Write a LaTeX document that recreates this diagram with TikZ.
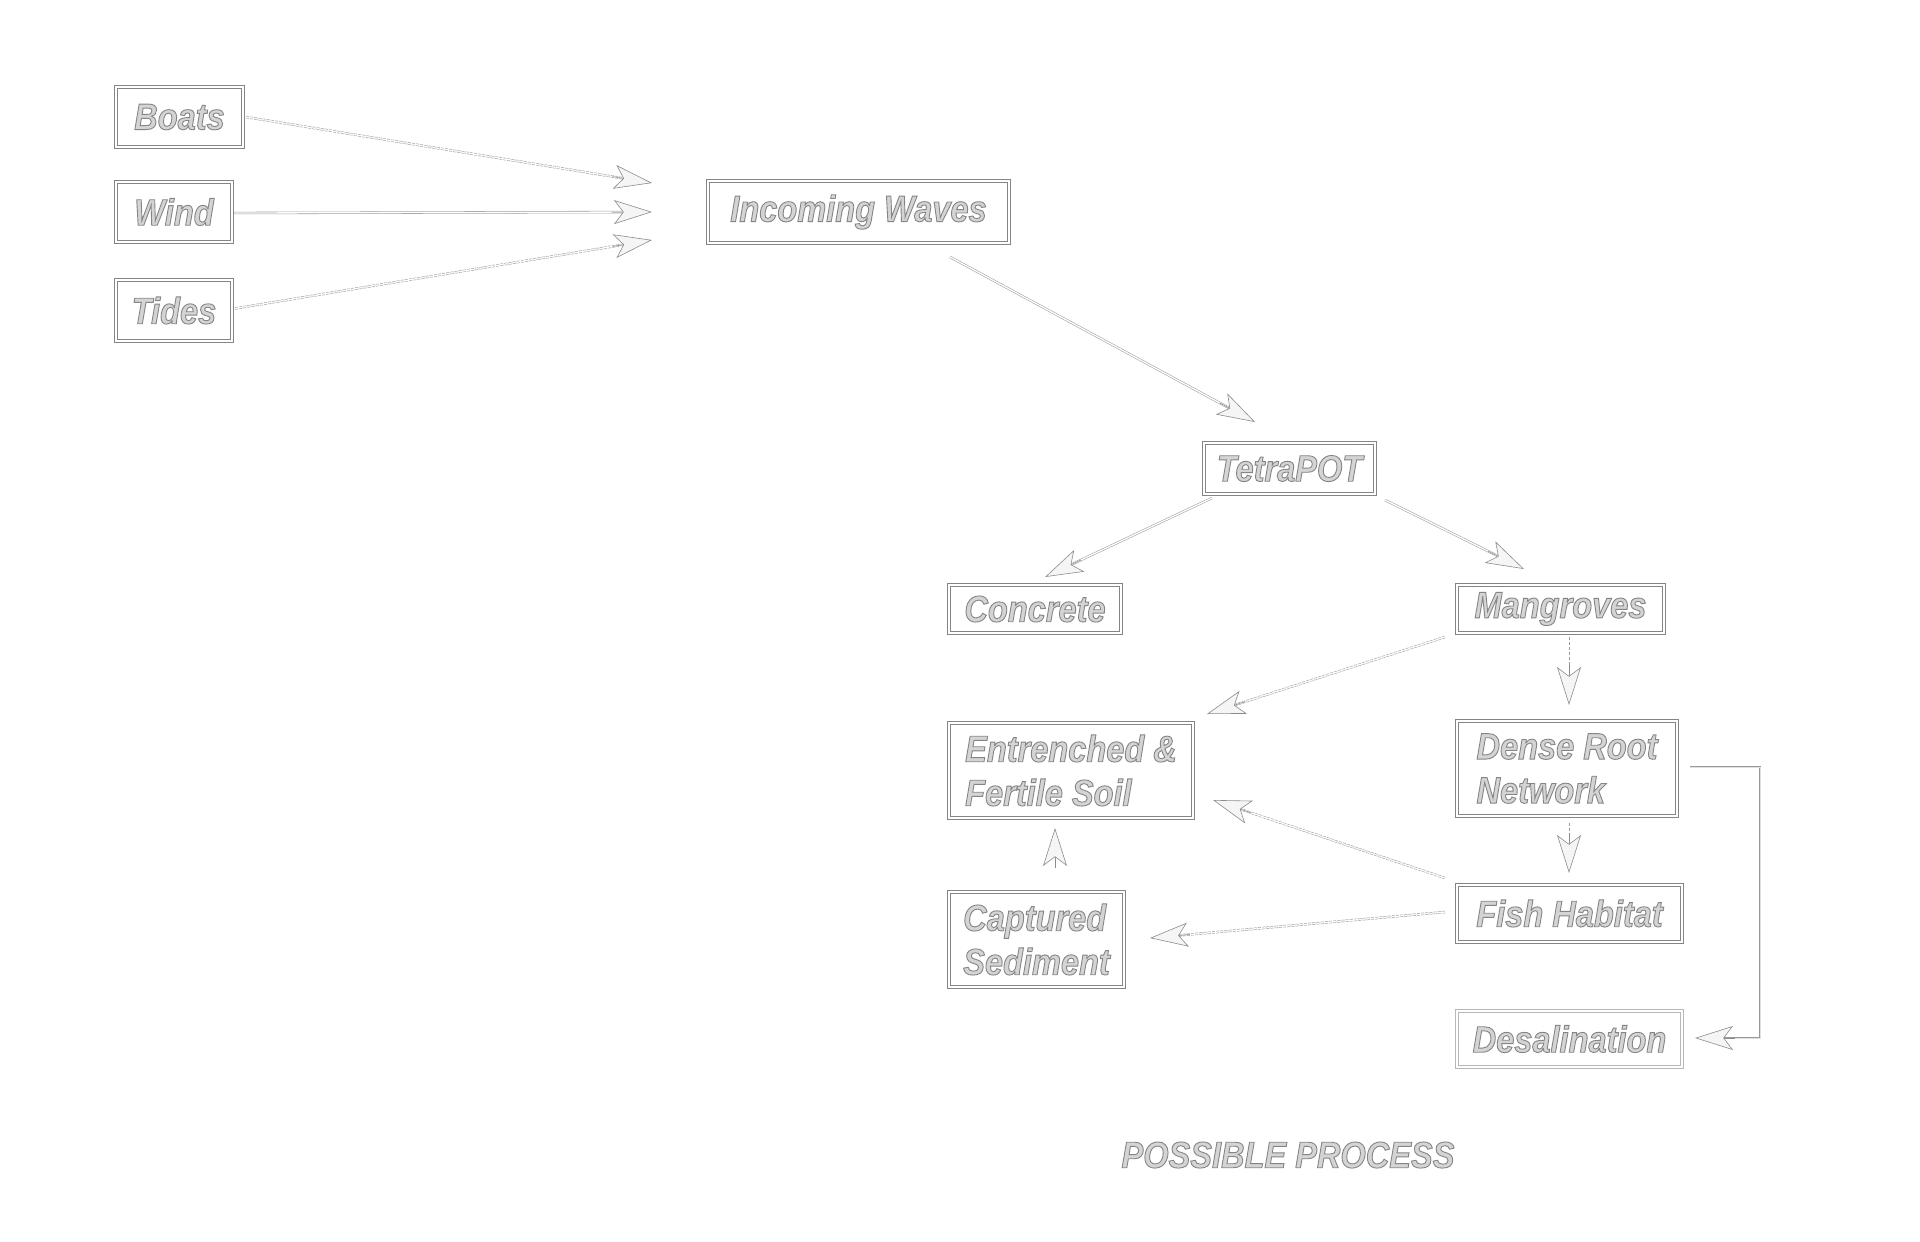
\documentclass[tikz,border=0pt]{standalone}
\usepackage{fontspec}
\newfontfamily\lab[FakeStretch=0.88]{Liberation Sans}
\usetikzlibrary{arrows.meta,calc}
\newcommand\emb[1]{\special{pdf:literal 2 Tr 0.52 G 0.9 w}#1\special{pdf:literal 0 Tr}}
\tikzset{
  box/.style={draw=black!48, line width=0.7pt, double=white, double distance=2.2pt,
    fill=white, text=black!17, align=left, inner sep=0pt, outer sep=0pt, anchor=north west,
    font={\lab\bfseries\itshape\fontsize{37}{44}\selectfont}},
  dl/.style={draw=black!38, line width=0.55pt, double=white, double distance=1.3pt, shorten >=29pt},
  dsh/.style={dash pattern=on 3pt off 1.2pt},
  thinline/.style={draw=black!40, line width=0.6pt, dash pattern=on 3pt off 2pt, shorten >=29pt},
  elbow/.style={draw=black!40, line width=0.7pt, double=black!12, double distance=1pt, shorten >=29pt},
  tipst/.style={draw=black!45, line width=0.6pt, -{Stealth[length=38pt,width=24pt,inset=9pt,fill=black!4]}}
}
\begin{document}
\begin{tikzpicture}[x=1pt,y=-1pt]
\useasboundingbox (0,0) rectangle (1920,1242);
\fill[white] (0,0) rectangle (1920,1242);
% nodes
\node[box, minimum width=127pt, minimum height=60pt] (boats) at (116,87) {\emb{Boats}};
\node[box, minimum width=116pt, minimum height=60pt] (wind) at (116,182) {\emb{Wind}};
\node[box, minimum width=116pt, minimum height=61pt] (tides) at (116,280) {\emb{Tides}};
\node[box, minimum width=301pt, minimum height=62pt] (iw) at (708,181) {\emb{Incoming Waves}};
\node[box, minimum width=171pt, minimum height=51pt] (tetra) at (1204,443) {\emb{TetraPOT}};
\node[box, minimum width=172pt, minimum height=48pt] (conc) at (949,585) {\emb{Concrete}};
\node[box, minimum width=207pt, minimum height=48pt] (mang) at (1457,585) {\emb{Mangroves}};
\node[box, minimum width=244pt, minimum height=95pt] (entr) at (949,723) {\emb{Entrenched \&\\Fertile Soil}};
\node[box, minimum width=220pt, minimum height=95pt] (dense) at (1457,721) {\emb{Dense Root\\Network}};
\node[box, minimum width=225pt, minimum height=57pt] (fish) at (1457,885) {\emb{Fish Habitat}};
\node[box, minimum width=175pt, minimum height=95pt] (capt) at (949,892) {\emb{Captured\\Sediment}};
\node[box, draw=black!28, minimum width=225pt, minimum height=56pt] (desal) at (1457,1011) {\emb{Desalination}};
\node[text=black!17, inner sep=0pt, font={\lab\bfseries\itshape\fontsize{37}{44}\selectfont}] (title) at (1288,1155) {\emb{POSSIBLE PROCESS}};
% connector end points
\coordinate (b1) at ($(boats.east)+(3,0)$);
\coordinate (t1) at (652,183);
\coordinate (b2) at ($(wind.east)+(2,1)$);
\coordinate (t2) at (652,212);
\coordinate (b3) at ($(tides.east)+(3,-2)$);
\coordinate (t3) at (652,240);
\coordinate (b4) at ($(iw.south)+(91.5,14)$);
\coordinate (t4) at ($(tetra.north)+(-34.5,-21)$);
\coordinate (b5) at ($(tetra.south west)+(8,4)$);
\coordinate (t5) at ($(conc.north)+(10,-8)$);
\coordinate (b6) at ($(tetra.south east)+(10,6)$);
\coordinate (t6) at ($(mang.north)+(-36.5,-16)$);
\coordinate (b7) at ($(mang.south west)+(-12,4)$);
\coordinate (t7) at ($(entr.north east)+(14,-9)$);
\coordinate (b8) at ($(mang.south)+(8.5,4)$);
\coordinate (t8) at ($(dense.north)+(2,-16)$);
\coordinate (b9) at ($(dense.south)+(2,7)$);
\coordinate (t9) at ($(fish.north)+(-0.5,-12)$);
\coordinate (b10) at ($(fish.west)+(-12,-35.5)$);
\coordinate (t10) at ($(entr.east)+(20,29.5)$);
\coordinate (b11) at ($(fish.west)+(-12,-1.5)$);
\coordinate (t11) at ($(capt.east)+(26,-1.5)$);
\coordinate (b12) at ($(capt.north)+(18.5,-14)$);
\coordinate (t12) at ($(entr.south)+(-16,10)$);
\coordinate (b13) at ($(dense.east)+(13,-1.5)$);
\coordinate (t13) at ($(desal.east)+(13,-1)$);
\coordinate (k13) at ($(b13)+(70,0)$);
% connectors
\draw[dl,dsh] (b1) -- (t1); \draw[tipst] ($(t1)!40pt!(b1)$) -- (t1);
\draw[dl] (b2) -- (t2); \draw[tipst] ($(t2)!40pt!(b2)$) -- (t2);
\draw[dl,dsh] (b3) -- (t3); \draw[tipst] ($(t3)!40pt!(b3)$) -- (t3);
\draw[dl] (b4) -- (t4); \draw[tipst] ($(t4)!40pt!(b4)$) -- (t4);
\draw[dl] (b5) -- (t5); \draw[tipst] ($(t5)!40pt!(b5)$) -- (t5);
\draw[dl] (b6) -- (t6); \draw[tipst] ($(t6)!40pt!(b6)$) -- (t6);
\draw[dl,dsh] (b7) -- (t7); \draw[tipst] ($(t7)!40pt!(b7)$) -- (t7);
\draw[thinline] (b8) -- (t8); \draw[tipst] ($(t8)!40pt!(b8)$) -- (t8);
\draw[thinline] (b9) -- (t9); \draw[tipst] ($(t9)!40pt!(b9)$) -- (t9);
\draw[dl,dsh] (b10) -- (t10); \draw[tipst] ($(t10)!40pt!(b10)$) -- (t10);
\draw[dl,dsh] (b11) -- (t11); \draw[tipst] ($(t11)!40pt!(b11)$) -- (t11);
\draw[dl] (b12) -- (t12); \draw[tipst] ($(t12)!40pt!(b12)$) -- (t12);
\draw[elbow] (b13) -- (k13) |- (t13); \draw[tipst] ($(t13)+(40,0)$) -- (t13);
\end{tikzpicture}
\end{document}
